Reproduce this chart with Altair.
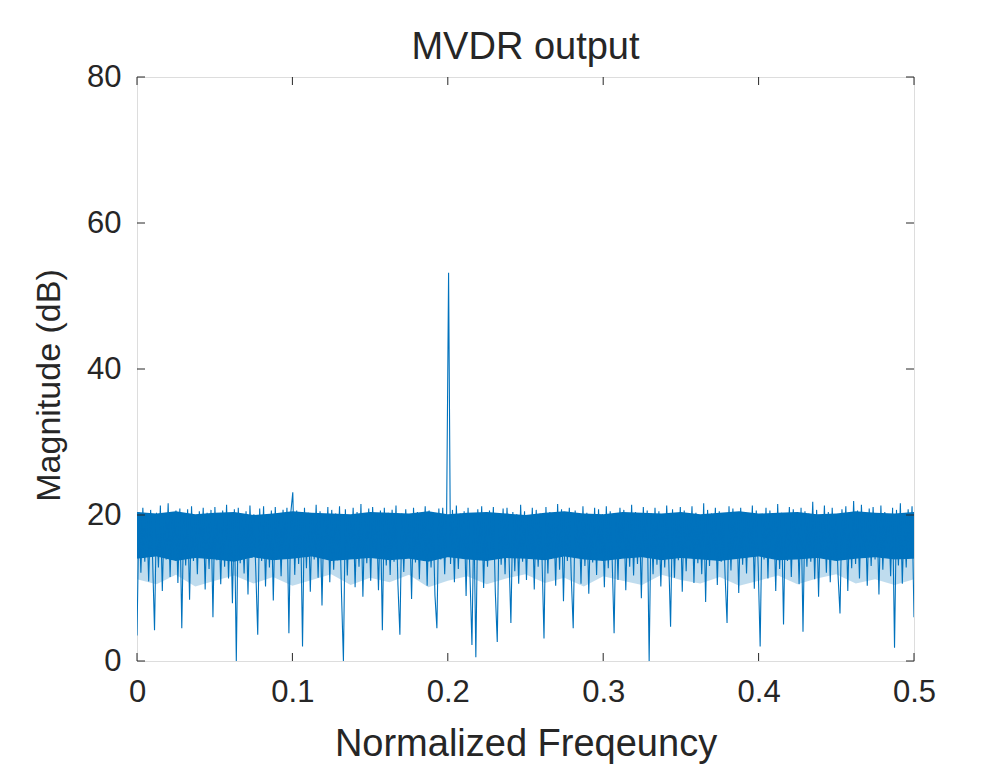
import altair as alt
import pandas as pd

# Magnitude (dB) of the MVDR output, read (approximately) off the reference, 400 samples over 0..0.5
magnitude_db = [
    3.5, 20.4, 12.1, 21.0, 13.6, 20.1, 10.9, 20.7, 14.0, 4.2, 20.3, 12.8, 21.3, 9.6, 20.0, 13.9, 21.6, 11.5, 19.9, 14.2,
    20.6, 10.7, 20.9, 4.5, 20.2, 13.1, 20.8, 8.4, 21.2, 13.7, 19.8, 11.9, 20.5, 14.3, 21.0, 9.8, 20.3, 12.6, 20.7, 6.0,
    21.1, 13.8, 20.0, 10.5, 20.6, 12.9, 21.4, 11.3, 20.2, 7.9, 20.8, 0.0, 21.0, 13.4, 19.9, 12.0, 20.5, 9.1, 21.3, 14.1,
    20.1, 12.4, 3.6, 20.9, 13.7, 21.2, 10.2, 20.0, 12.8, 20.6, 8.3, 21.1, 14.0, 19.8, 11.6, 20.7, 14.4, 21.0, 3.8, 20.4,
    23.1, 11.8, 20.6, 13.3, 20.1, 2.0, 21.0, 12.7, 20.3, 9.5, 20.2, 13.9, 21.4, 11.4, 20.5, 7.6, 20.0, 14.2, 21.1, 10.8,
    20.7, 12.5, 20.2, 13.8, 21.2, 9.3, 0.0, 20.8, 11.7, 19.9, 14.5, 21.0, 10.1, 20.4, 12.9, 21.5, 8.8, 20.1, 13.4, 20.9,
    11.0, 21.1, 14.3, 20.0, 9.7, 20.6, 4.2, 21.0, 13.1, 20.3, 11.8, 20.7, 13.6, 21.3, 10.4, 3.6, 20.2, 12.2, 20.8, 14.6,
    19.9, 8.5, 21.0, 13.5, 20.4, 11.2, 20.1, 14.4, 21.2, 10.3, 20.6, 12.8, 20.0, 9.0, 4.5, 20.9, 13.9, 21.0, 11.9, 20.2,
    53.2, 13.3, 20.7, 10.8, 21.3, 12.6, 20.2, 14.1, 20.5, 8.9, 21.0, 11.6, 2.2, 20.1, 0.5, 20.8, 13.8, 21.2, 10.0, 20.3,
    12.9, 20.6, 14.4, 21.1, 9.4, 2.6, 20.0, 13.2, 20.9, 11.9, 21.0, 14.6, 5.2, 20.4, 12.3, 20.1, 10.6, 21.4, 13.6, 20.5,
    11.1, 20.0, 14.1, 21.0, 9.8, 20.7, 12.9, 20.2, 13.9, 3.1, 21.1, 12.0, 20.4, 14.5, 20.1, 10.3, 21.5, 12.5, 20.8, 8.2,
    20.0, 13.7, 21.0, 11.5, 4.5, 20.6, 14.3, 20.2, 10.6, 21.2, 13.0, 20.3, 9.2, 19.9, 13.5, 21.0, 11.8, 20.8, 14.7, 20.1,
    10.1, 21.2, 12.7, 20.5, 13.9, 3.8, 20.2, 11.1, 21.0, 14.2, 20.7, 9.7, 20.0, 12.9, 21.4, 11.7, 20.4, 13.3, 20.1, 8.6,
    21.1, 14.5, 20.6, 0.0, 20.2, 11.9, 21.0, 13.2, 20.5, 10.2, 20.0, 12.8, 21.3, 14.3, 4.7, 20.8, 11.4, 20.2, 13.8, 21.1,
    9.5, 20.6, 12.3, 20.1, 14.8, 21.2, 10.7, 20.3, 13.4, 19.9, 11.9, 21.6, 8.1, 20.7, 13.0, 20.2, 14.1, 21.0, 10.4, 20.5,
    13.6, 20.1, 11.6, 5.2, 21.2, 12.4, 20.9, 14.4, 20.0, 9.3, 21.0, 13.2, 20.4, 12.0, 20.2, 14.7, 21.3, 9.9, 20.6, 12.9,
    2.0, 20.1, 13.9, 21.0, 11.3, 20.6, 14.3, 20.2, 9.6, 21.5, 12.6, 20.3, 5.0, 19.9, 13.7, 21.1, 11.5, 20.8, 14.1, 20.1,
    10.5, 21.0, 4.0, 20.5, 12.9, 20.2, 13.6, 21.8, 11.2, 20.7, 8.8, 20.0, 14.4, 21.3, 12.1, 20.4, 10.8, 21.0, 13.8, 20.1,
    11.7, 6.5, 20.8, 14.5, 21.2, 9.6, 20.2, 12.7, 21.9, 13.3, 20.6, 11.3, 21.4, 14.2, 19.9, 10.3, 20.9, 13.0, 21.1, 13.9,
    20.1, 9.1, 21.3, 12.5, 20.4, 14.6, 20.0, 11.6, 21.0, 1.8, 20.7, 13.1, 21.6, 10.6, 20.2, 12.8, 20.8, 14.3, 21.2, 6.0,
]
# dense core of the noise band (upper / lower edge), 41 samples over 0..0.5
core_upper = [20.4, 20.2, 20.5, 20.1, 20.3, 20.4, 20.0, 20.2, 20.5, 20.3, 20.2, 20.1, 20.4, 20.3, 20.2,
              20.5, 20.1, 20.3, 20.4, 20.2, 20.0, 20.3, 20.5, 20.2, 20.1, 20.4, 20.3, 20.2, 20.4, 20.1,
              20.3, 20.5, 20.2, 20.3, 20.4, 20.1, 20.2, 20.5, 20.3, 20.2, 20.4]
core_lower = [14.0, 14.3, 13.7, 14.1, 13.9, 13.6, 14.2, 13.8, 14.0, 14.3, 13.7, 13.9, 14.1, 13.8, 14.0,
              13.6, 14.2, 13.9, 13.7, 14.1, 14.0, 13.8, 14.3, 13.9, 13.7, 14.0, 14.2, 13.8, 14.1, 13.9,
              13.7, 14.0, 14.3, 13.8, 13.9, 14.1, 13.7, 14.0, 14.2, 13.9, 14.0]
# lighter lower fringe of the band (where most of the downward spikes end)
fringe_lower = [11.2, 10.5, 11.8, 10.2, 11.0, 11.7, 10.6, 11.5, 10.3, 11.1, 11.9, 10.4, 11.4, 10.8, 11.8,
                10.1, 11.0, 11.6, 10.5, 11.3, 11.9, 10.7, 11.4, 10.2, 11.6, 11.0, 10.4, 11.8, 11.1, 10.6,
                11.5, 10.3, 11.0, 11.7, 10.5, 11.3, 11.9, 10.6, 11.2, 10.4, 11.2]
f_start, f_end = 0.0, 0.5
x_ticks = [0, 0.1, 0.2, 0.3, 0.4, 0.5]
y_ticks = [0, 20, 40, 60, 80]

n = len(magnitude_db)
df = pd.DataFrame({"freq": [f_start + (f_end - f_start) * i / (n - 1) for i in range(n)],
                   "mag": magnitude_db})
m = len(core_upper)
core = pd.DataFrame({"freq": [f_start + (f_end - f_start) * i / (m - 1) for i in range(m)],
                     "hi": core_upper, "lo": core_lower, "fr": fringe_lower})

W, H = 777, 584
TXT = "#262626"
FONT = "Liberation Sans"
BLUE = "#0072BD"

xscale = alt.Scale(domain=[0, 0.5], nice=False, zero=False)
yscale = alt.Scale(domain=[0, 80], nice=False)

xaxis = alt.Axis(values=x_ticks, format=".1~f", title="Normalized Freqeuncy",
                 tickSize=0, domain=False, grid=False, labelFontSize=31,
                 labelPadding=16, titleFontSize=38, titlePadding=18,
                 labelColor=TXT, titleColor=TXT, labelFont=FONT, titleFont=FONT,
                 titleFontWeight="normal", labelFlush=False)
yaxis = alt.Axis(values=y_ticks, title="Magnitude (dB)", tickSize=0, domain=False,
                 grid=False, labelFontSize=31, labelPadding=16, titleFontSize=34,
                 titlePadding=20, titleY=308, labelColor=TXT, titleColor=TXT, labelFont=FONT,
                 titleFont=FONT, titleFontWeight="normal", labelFlush=False)

fringe = alt.Chart(core).mark_area(color=BLUE, opacity=0.25, interpolate="linear").encode(
    x=alt.X("freq:Q", scale=xscale, axis=xaxis),
    y=alt.Y("fr:Q", scale=yscale, axis=yaxis),
    y2="lo:Q",
)
band = alt.Chart(core).mark_area(color=BLUE, opacity=1, interpolate="linear").encode(
    x=alt.X("freq:Q", scale=xscale),
    y=alt.Y("lo:Q", scale=yscale),
    y2="hi:Q",
)
line = alt.Chart(df).mark_line(color=BLUE, strokeWidth=1.1, clip=True).encode(
    x=alt.X("freq:Q", scale=xscale),
    y=alt.Y("mag:Q", scale=yscale),
)

xt = pd.DataFrame({"t": x_ticks})
yt = pd.DataFrame({"t": y_ticks})
tick_color = "#262626"
xbot = alt.Chart(xt).mark_rule(color=tick_color, strokeWidth=1).encode(
    x=alt.X("t:Q", scale=xscale), y=alt.value(H), y2=alt.value(H - 8))
xtop = alt.Chart(xt).mark_rule(color=tick_color, strokeWidth=1).encode(
    x=alt.X("t:Q", scale=xscale), y=alt.value(0), y2=alt.value(8))
yleft = alt.Chart(yt).mark_rule(color=tick_color, strokeWidth=1).encode(
    y=alt.Y("t:Q", scale=yscale), x=alt.value(0), x2=alt.value(8))
yright = alt.Chart(yt).mark_rule(color=tick_color, strokeWidth=1).encode(
    y=alt.Y("t:Q", scale=yscale), x=alt.value(W), x2=alt.value(W - 8))

chart = alt.layer(fringe, band, line, xbot, xtop, yleft, yright).properties(
    width=W, height=H,
    title=alt.TitleParams("MVDR output", fontSize=38, font=FONT, color=TXT,
                          fontWeight="normal", offset=12, dy=18),
    autosize=alt.AutoSizeParams(type="none"),
    padding={"left": 129, "top": 69, "right": 64, "bottom": 115},
).configure_view(stroke="#404040", strokeWidth=1.2).configure(background="white")

chart.save("out.html", embed_options={"renderer": "svg", "actions": False})
